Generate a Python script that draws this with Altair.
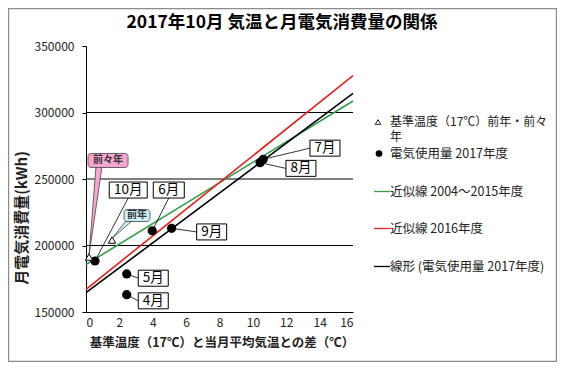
import altair as alt
import pandas as pd

FONT = "Noto Sans CJK JP"

# ---- data ----
months = ["4月", "5月", "6月", "7月", "8月", "9月", "10月"]
month_x = [2.44, 2.44, 3.97, 10.62, 10.43, 5.13, 0.54]
month_y = [163000, 178600, 211100, 264800, 262300, 212900, 188350]

ref_names = ["前々年", "前年"]
ref_x = [0.18, 1.56]
ref_y = [191350, 204100]

fit_names = ["近似線 2004～2015年度", "近似線 2016年度", "線形 (電気使用量 2017年度)"]
fit_colors = ["#2e9e48", "#e3201b", "#000000"]
fit_x0 = [0, 0, 0]
fit_x1 = [16, 16, 16]
fit_y0 = [185700, 167070, 164500]
fit_y1 = [308650, 327700, 314450]

x_ticks = [0, 2, 4, 6, 8, 10, 12, 14, 16]
y_ticks = [150000, 200000, 250000, 300000, 350000]
grid_y = [200000, 250000, 300000]

# month label annotations (data units)
label_cx = [4.03, 4.03, 4.96, 14.32, 12.88, 7.53, 2.53]
label_cy = [158400, 175400, 241700, 273200, 258000, 210200, 241700]
label_w = [30, 30, 31, 30, 30, 30, 38]
label_anchor = ["left", "left", "bottom", "left", "left", "left", "bottom"]

# callouts for the reference triangles
callout_box = [[0.12, 2.52, 258650, 269180], [2.28, 3.84, 218050, 227070]]
callout_fill = ["#f8a5cf", "#c9eff8"]
callout_wedge = [[0.60, 0.96, 259500], [2.40, 2.76, 218500]]

# ---- layout ----
W, H = 267, 266
PX_X = W / 16.0
KWH_PX = 200000.0 / H

xs = alt.Scale(domain=[0, 16], nice=False, zero=False)
ys = alt.Scale(domain=[150000, 350000], nice=False, zero=False)

XAX = alt.Axis(values=x_ticks, labelFontSize=12, labelFont=FONT, labelColor="#222",
               ticks=False, tickSize=0, labelPadding=5, domainColor="black",
               grid=False, title=None)
YAX = alt.Axis(values=y_ticks, format="d", labelFontSize=12, labelFont=FONT,
               labelColor="#222", tickSize=4, tickColor="black", labelPadding=8,
               domainColor="black", grid=False, title=None)


def X(f):
    return alt.X(f, scale=xs, axis=XAX)


def Y(f):
    return alt.Y(f, scale=ys, axis=YAX)


pts = pd.DataFrame({"m": months, "x": month_x, "y": month_y})
base = alt.Chart(pts).mark_circle(size=85, color="black", opacity=1).encode(
    x=X("x:Q"), y=Y("y:Q"))

grid = alt.Chart(pd.DataFrame({"y": grid_y})).mark_rule(color="black", strokeWidth=1).encode(
    y=Y("y:Q"))

fits = pd.DataFrame({"n": fit_names, "c": fit_colors, "x0": fit_x0, "x1": fit_x1,
                     "y0": fit_y0, "y1": fit_y1})
fit_layer = alt.Chart(fits).mark_rule(strokeWidth=1.6).encode(
    x=X("x0:Q"), x2="x1:Q", y=Y("y0:Q"), y2="y1:Q",
    color=alt.Color("c:N", scale=None))

# labels
rows = []
for m, x, y, cx, cy, w, a in zip(months, month_x, month_y, label_cx, label_cy, label_w, label_anchor):
    hw = w / 2.0 / PX_X
    hh = 8 * KWH_PX
    x1, x2, y1, y2 = cx - hw, cx + hw, cy - hh, cy + hh
    ex, ey = (x1, cy) if a == "left" else (cx, y1)
    rows.append({"m": m, "px": x, "py": y, "ex": ex, "ey": ey,
                 "x1": x1, "x2": x2, "y1": y1, "y2": y2, "cx": cx, "cy": cy})
lab = pd.DataFrame(rows)

leaders = alt.Chart(lab).mark_rule(color="black", strokeWidth=0.8).encode(
    x=X("px:Q"), x2="ex:Q", y=Y("py:Q"), y2="ey:Q")
boxes = alt.Chart(lab).mark_rect(fill="white", stroke="black", strokeWidth=1).encode(
    x=X("x1:Q"), x2="x2:Q", y=Y("y1:Q"), y2="y2:Q")
box_text = alt.Chart(lab).mark_text(font=FONT, fontSize=13.5, color="black", baseline="middle").encode(
    x=X("cx:Q"), y=Y("cy:Q"), text="m:N")

refs = pd.DataFrame({"n": ref_names, "x": ref_x, "y": ref_y})
tri = alt.Chart(refs).mark_point(shape="triangle-up", size=55, fill="white", stroke="black",
                                 strokeWidth=1, filled=False, opacity=1).encode(
    x=X("x:Q"), y=Y("y:Q"))

# callouts
wedge_rows, cbox_rows = [], []
for i, n in enumerate(ref_names):
    wx1, wx2, wy = callout_wedge[i]
    wedge_rows.append({"k": n, "y": wy, "xa": wx1, "xb": wx2, "f": callout_fill[i]})
    wedge_rows.append({"k": n, "y": ref_y[i] + 1200, "xa": ref_x[i], "xb": ref_x[i], "f": callout_fill[i]})
    bx1, bx2, by1, by2 = callout_box[i]
    cbox_rows.append({"k": n, "x1": bx1, "x2": bx2, "y1": by1, "y2": by2,
                      "cx": (bx1 + bx2) / 2, "cy": (by1 + by2) / 2, "f": callout_fill[i]})
wdf = pd.DataFrame(wedge_rows)
cdf = pd.DataFrame(cbox_rows)

wedges = alt.Chart(wdf).mark_area(orient="horizontal", stroke="#444", strokeWidth=0.8, opacity=1).encode(
    y=Y("y:Q"), x=X("xa:Q"), x2="xb:Q",
    fill=alt.Fill("f:N", scale=None), detail="k:N")
cboxes = alt.Chart(cdf).mark_rect(stroke="#444", strokeWidth=0.8, cornerRadius=3).encode(
    x=X("x1:Q"), x2="x2:Q", y=Y("y1:Q"), y2="y2:Q",
    fill=alt.Fill("f:N", scale=None))
ctext = alt.Chart(cdf).mark_text(font=FONT, fontSize=10, fontWeight="bold", color="#333",
                                 baseline="middle").encode(
    x=X("cx:Q"), y=Y("cy:Q"), text="k:N")


# ---- titles, legend, frame (pixel layout) ----
def T(txt, x, y, size, weight="normal", align="center", angle=0, color="#222"):
    kw = dict(text=txt, font=FONT, fontSize=size, fontWeight=weight, align=align,
              baseline="middle", color=color)
    if angle:
        kw["angle"] = angle
    return alt.Chart(pd.DataFrame({"a": [0]})).mark_text(**kw).encode(
        x=alt.value(x), y=alt.value(y))


title = T("2017年10月  気温と月電気消費量の関係", 196, -23, 17.5, "bold", color="black")
ytitle = T("月電気消費量(kWh)", -64, 172, 15, "bold", angle=270)
xtitle = T("基準温度（17℃）と当月平均気温との差（℃）", 136, 297, 12.5, "bold")

LX = 304  # legend text x (plot coords)
leg = [
    T("基準温度（17℃）前年・前々", LX, 75.5, 12, align="left"),
    T("年", LX, 91, 12, align="left"),
    T("電気使用量 2017年度", LX, 107.5, 12.5, align="left"),
    T(fit_names[0], LX, 145.5, 12.5, align="left"),
    T(fit_names[1], LX, 182.5, 12.5, align="left"),
    T(fit_names[2], LX, 220.5, 12.5, align="left"),
]
one = pd.DataFrame({"a": [0]})
leg_tri = alt.Chart(one).mark_point(shape="triangle-up", size=30, fill="white", stroke="#222",
                                    strokeWidth=1, filled=False, opacity=1).encode(
    x=alt.value(292), y=alt.value(76))
leg_dot = alt.Chart(one).mark_circle(size=45, color="black", opacity=1).encode(
    x=alt.value(293), y=alt.value(107.5))
leg_lines = [
    alt.Chart(one).mark_rule(color=c, strokeWidth=1.3).encode(
        x=alt.value(288), x2=alt.value(304), y=alt.value(yy))
    for c, yy in zip(fit_colors, [145.5, 182.5, 220.5])
]

frame = alt.Chart(one).mark_rect(fill=None, fillOpacity=0, stroke="#8c8c8c", strokeWidth=1.2).encode(
    x=alt.value(-77.4), x2=alt.value(470.4), y=alt.value(-37.4), y2=alt.value(315.4))

chart = alt.layer(
    grid, fit_layer, leaders, base, tri, wedges, cboxes, ctext,
    boxes, box_text, title, ytitle, xtitle, *leg, leg_tri, leg_dot, *leg_lines, frame
).properties(
    width=W, height=H,
    padding={"left": 78, "top": 38, "right": 204, "bottom": 50},
    autosize=alt.AutoSizeParams(type="none"),
).configure_view(strokeWidth=0)

chart.save("out.html", embed_options={"renderer": "svg", "actions": False})
